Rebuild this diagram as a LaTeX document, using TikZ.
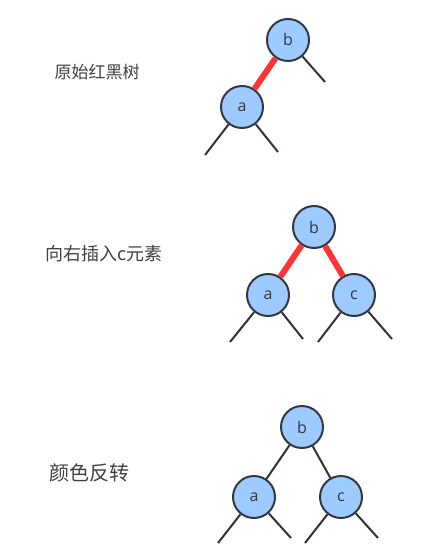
\documentclass[tikz,border=0pt]{standalone}
\usepackage{fontspec}
\newfontfamily\cjk{Noto Sans CJK SC}
\setsansfont{Open Sans}
\definecolor{nodefill}{HTML}{9DCBFF}
\definecolor{nodeline}{HTML}{333840}
\definecolor{redlink}{HTML}{FF3333}
\definecolor{txt}{HTML}{404040}
\tikzset{
  rb/.style={circle, draw=nodeline, fill=nodefill, line width=2pt, minimum size=42pt, inner sep=0pt, font=\sffamily\fontsize{16}{16}\selectfont, text=nodeline},
  blk/.style={draw=nodeline!90!black, line width=2pt},
  redl/.style={draw=redlink, line width=6pt},
  lbl/.style={font=\cjk\fontsize{17}{17}\selectfont, text=txt, anchor=west},
}
\begin{document}
\begin{tikzpicture}[x=1pt,y=-1pt]
\useasboundingbox (0,0) rectangle (426,553);
% tree 1
\node[lbl] (t1) at (51,72) {原始红黑树};
\coordinate (b1r) at (325,82);
\coordinate (a1l) at (205,155);
\coordinate (a1r) at (278,152);
\node[rb] (b1) at (288,40) {b};
\node[rb] (a1) at (242,107) {a};
\draw[redl] (b1) -- (a1);
\draw[blk] (b1) -- (b1r);
\draw[blk] (a1) -- (a1l);
\draw[blk] (a1) -- (a1r);
% tree 2
\node[lbl, font=\cjk\fontsize{18}{18}\selectfont] (t2) at (42,254) {向右插入c元素};
\node[rb] (b2) at (314,227) {b};
\node[rb] (a2) at (268,295) {a};
\node[rb] (c2) at (354,295) {c};
\coordinate (a2l) at (230,342);
\coordinate (a2r) at (303,339);
\coordinate (c2l) at (318,342);
\coordinate (c2r) at (392,339);
\draw[redl] (b2) -- (a2);
\draw[redl] (b2) -- (c2);
\draw[blk] (a2) -- (a2l);
\draw[blk] (a2) -- (a2r);
\draw[blk] (c2) -- (c2l);
\draw[blk] (c2) -- (c2r);
% tree 3
\node[lbl, font=\cjk\fontsize{20}{20}\selectfont] (t3) at (46,473) {颜色反转};
\node[rb] (b3) at (302,427) {b};
\node[rb] (a3) at (254,497) {a};
\node[rb] (c3) at (341,497) {c};
\coordinate (a3l) at (218,543);
\coordinate (a3r) at (291,538);
\coordinate (c3l) at (305,543);
\coordinate (c3r) at (378,538);
\draw[blk] (b3) -- (a3);
\draw[blk] (b3) -- (c3);
\draw[blk] (a3) -- (a3l);
\draw[blk] (a3) -- (a3r);
\draw[blk] (c3) -- (c3l);
\draw[blk] (c3) -- (c3r);
\end{tikzpicture}
\end{document}
